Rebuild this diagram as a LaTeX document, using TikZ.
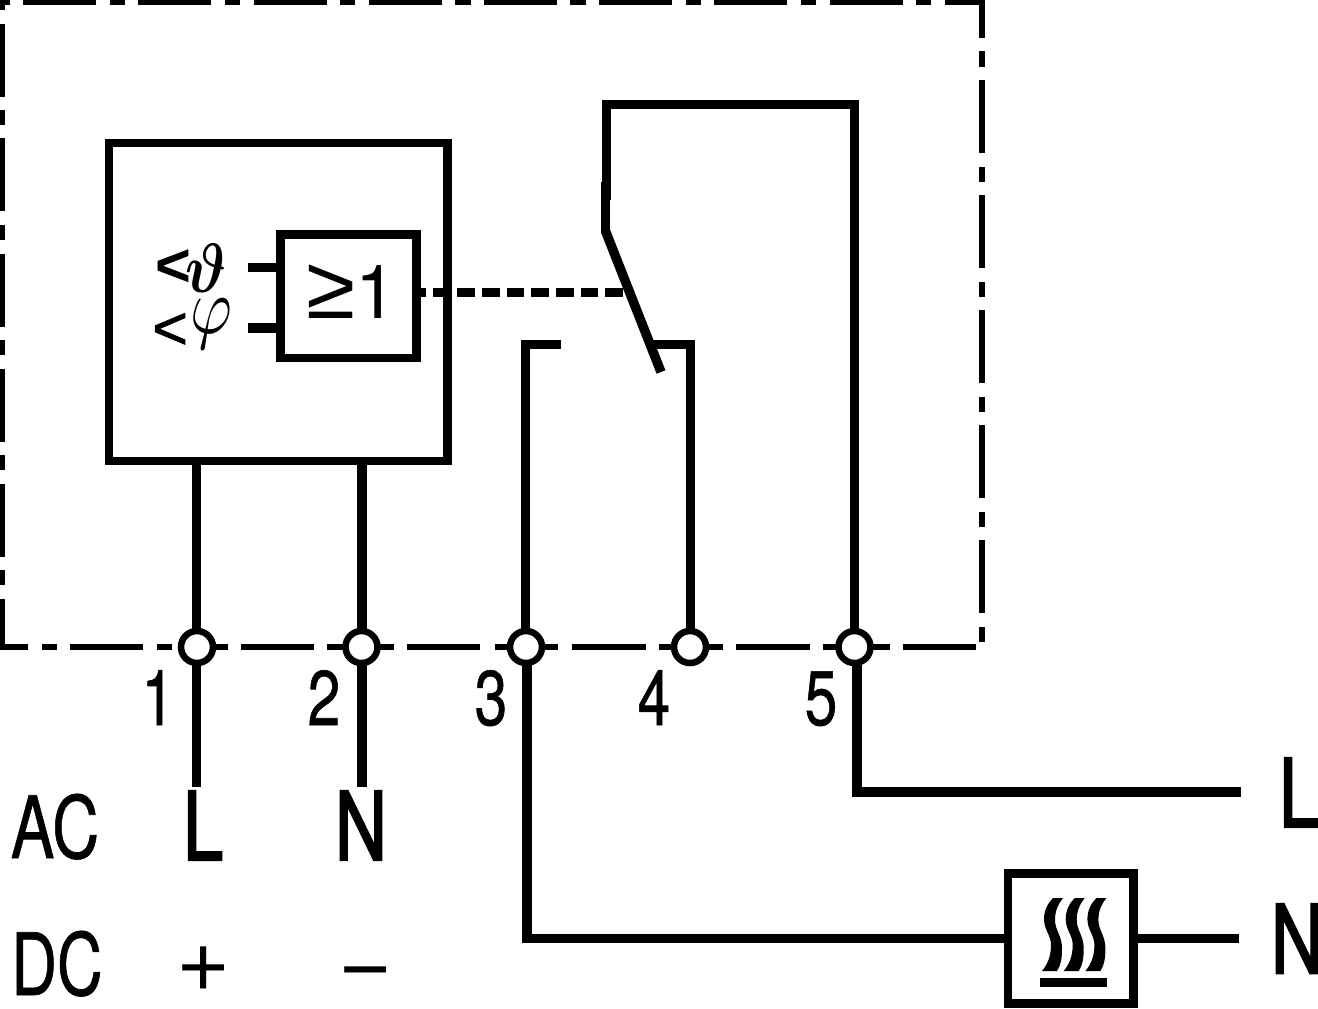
\documentclass[tikz,border=0pt]{standalone}
\usepackage{fontspec}
\setmainfont{TeX Gyre Heros}
\newfontfamily\heavy[FakeBold=0.8]{TeX Gyre Heros}
\newfontfamily\heavier[FakeBold=2.6]{TeX Gyre Heros}
\newfontfamily\libs{Liberation Sans}
\newfontfamily\libsheavy[FakeBold=1.2]{Liberation Sans}
\tikzset{
  x=.75pt,y=-.75pt,
  wire/.style={line width=7.1pt,line cap=butt,line join=miter},
  frameline/.style={line width=4.3pt,line cap=butt,line join=miter},
  boxn/.style={draw,line width=6.5pt,inner sep=0pt,outer sep=0pt,fill=white},
  term/.style={draw,circle,line width=4.9pt,minimum size=24pt,inner sep=0pt,outer sep=0pt,fill=white},
  lab/.style={inner sep=0pt,outer sep=0pt,anchor=base,font=\fontsize{58pt}{60pt}\selectfont\heavy},
  captxt/.style={lab,font=\fontsize{64.5pt}{66pt}\selectfont\heavy},
  capbold/.style={lab,font=\fontsize{71pt}{73pt}\selectfont\heavier},
}
\newcommand{\nar}[1]{\scalebox{.76}[1]{#1}}
\begin{document}
\begin{tikzpicture}
\useasboundingbox (0,0) rectangle (1318,1008);
% frame
\foreach \a/\b in {23/96,110/125,138/211,225/240,254/327,340/355,369/442,455/471,484/557,570/586,599/672,686/701,714/787,801/816,830/903,916/931}
  \draw[frameline] (\a,2.5) -- (\b,2.5);
\draw[frameline] (10,2.5) -- (2.5,2.5) -- (2.5,10);
\draw[frameline] (945,2.5) -- (982,2.5) -- (982,38);
\foreach \a/\b in {24/97,110/125,138/211,225/240,254/327,340/355,369/442,455/470,484/557,570/585}
  \draw[frameline] (2.5,\a) -- (2.5,\b);
\draw[frameline] (2.5,599) -- (2.5,647) -- (28,647);
\foreach \a/\b in {51/67,80/153,167/182,195/268,282/297,310/383,397/412,425/498,512/527,540/613,627/642}
  \draw[frameline] (982,\a) -- (982,\b);
\foreach \a/\b in {42/57,70/143,157/172,185/228,241/314,327/394,407/480,495/558,572/646,659/723,736/810,823/890,903/976}
  \draw[frameline] (\a,647) -- (\b,647);
% boxes
\node[boxn,minimum width=253.9pt,minimum height=238.5pt] (sensor) at (278.25,302) {};
\node[boxn,minimum width=102pt,minimum height=92.6pt] (logic) at (348.5,296.25) {};
\node[boxn,minimum width=94.1pt,minimum height=97.9pt] (heater) at (1070.75,938.5) {};
% coordinates
\coordinate (s1) at (248,267.5);
\coordinate (s2) at (248,328);
\coordinate (bladeTop) at (605.5,231);
\coordinate (bladeEnd) at (661,372);
\coordinate (contactL) at (561,344.5);
\coordinate (contact3) at (525.5,344.5);
\coordinate (contact3b) at (525.5,647);
\coordinate (contact4) at (690.5,344.5);
\coordinate (contact4b) at (690.5,647);
\coordinate (contactR) at (652,344.5);
\coordinate (top5) at (854.5,104.5);
\coordinate (top5b) at (854.5,647);
\coordinate (top0) at (606.5,104.5);
\coordinate (stem) at (606.5,200);
\coordinate (stemB) at (605.5,182);
\coordinate (stemC) at (605.5,234);
\coordinate (dashEnd) at (623,292.5);
\coordinate (w1end) at (196.5,787);
\coordinate (w2end) at (362,787);
\coordinate (w5a) at (857,647);
\coordinate (w5b) at (857,792);
\coordinate (w5c) at (1241,792);
\coordinate (w3a) at (527,647);
\coordinate (w3b) at (527,938.5);
\coordinate (nEnd) at (1239,938.5);
% wires
\draw[wire] (s1) -- (s1 -| logic.west);
\draw[wire] (s2) -- (s2 -| logic.west);
\draw[wire] (contactL) -- (contact3) -- (contact3b);
\draw[wire] (contactR) -- (contact4) -- (contact4b);
\draw[wire] (stem) -- (top0) -- (top5) -- (top5b);
\draw[wire] (stemB) -- (stemC);
\draw[wire] (bladeTop) -- (bladeEnd);
\draw[wire] (w1end |- sensor.south) -- (w1end);
\draw[wire] (w2end |- sensor.south) -- (w2end);
\draw[wire] (w5a) -- (w5b) -- (w5c);
\draw[wire] (w3a) -- (w3b) -- (heater.west |- w3b);
\draw[wire] (heater.east) -- (nEnd);
\draw[line width=6.75pt,dash pattern=on 13.2pt off 5.3pt] (dashEnd) -- (logic.east |- dashEnd);
% terminals
\node[term] (t1) at (197,647) {};
\node[term] (t2) at (361.5,647) {};
\node[term] (t3) at (526,647) {};
\node[term] (t4) at (690,647) {};
\node[term] (t5) at (854.5,647) {};
% heating symbol
\foreach \d in {0,21.7,43.4}
  \fill[xshift=\d*.75pt] (1063,898) .. controls (1058,904) and (1055,911) .. (1055,920)
    .. controls (1055,930) and (1062,936) .. (1062,948)
    .. controls (1062,958) and (1061,965) .. (1057,971) -- (1042,971)
    .. controls (1047,965) and (1051,957) .. (1051,945)
    .. controls (1051,935) and (1044,930) .. (1044,919)
    .. controls (1044,910) and (1048,903) .. (1053,898) -- cycle;
\fill (1040,978) rectangle (1107,987);
% labels
\node[lab] (n1) at (158,725) {\nar{1}};
\node[lab] (n2) at (324,725) {\nar{2}};
\node[lab] (n3) at (491,725) {\nar{3}};
\node[lab] (n4) at (654,725) {\nar{4}};
\node[lab] (n5) at (821,725) {\nar{5}};
\node[captxt] (ac) at (55,858) {\nar{AC}};
\node[captxt] (dc) at (57,995) {\scalebox{.97}[1]{\nar{DC}}};
\node[capbold] (lL) at (203,860) {\nar{L}};
\node[capbold] (lN) at (361,860) {\nar{N}};
\node[capbold] (rL) at (1299,827) {\nar{L}};
\node[capbold] (rN) at (1297,973) {\nar{N}};
\node[captxt,font=\fontsize{64.5pt}{66pt}\selectfont\libs] (plus) at (204,996) {+};
\node[captxt,font=\fontsize{64.5pt}{66pt}\selectfont\libs] (minus) at (366,998) {−};
\node[lab,font=\fontsize{67pt}{69pt}\selectfont\libs] (ge) at (331,318) {≥};
\node[lab,font=\fontsize{56pt}{58pt}\selectfont] (one) at (376,318) {1};
\node[lab,font=\fontsize{46pt}{48pt}\selectfont\libs\bfseries] (lt1) at (173,286) {<};
\node[lab,font=\fontsize{46pt}{48pt}\selectfont\libsheavy] (lt2) at (170,349) {<};
\node[lab] (theta) at (206,292) {\scalebox{4.46}[5.25]{\normalsize\mathversion{bold}$\vartheta$}};
\node[lab] (phi) at (211,333) {\scalebox{4.8}[6]{\normalsize$\varphi$}};
\end{tikzpicture}
\end{document}
